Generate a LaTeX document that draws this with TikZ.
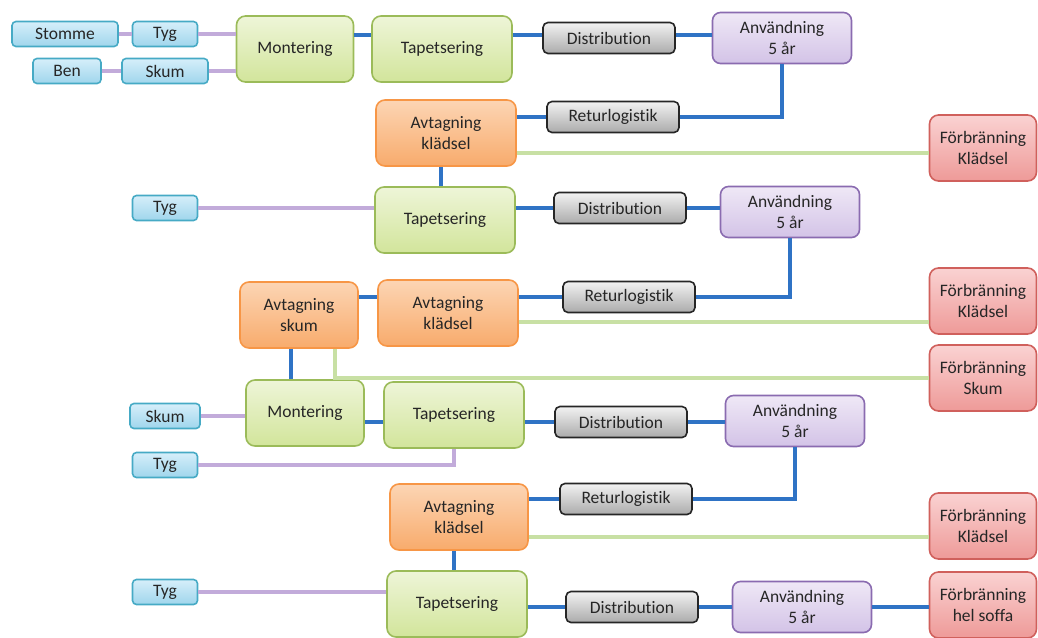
\documentclass[tikz,border=0pt]{standalone}
\usepackage{fontspec}
\setmainfont{Carlito}[Ligatures=NoCommon]
\usetikzlibrary{positioning}
\definecolor{RawLine}{HTML}{46AAC5}
\definecolor{RawTop}{HTML}{D6EFFA}
\definecolor{RawBot}{HTML}{9FD5EC}
\definecolor{WorkLine}{HTML}{9BBB59}
\definecolor{WorkTop}{HTML}{EEF5D8}
\definecolor{WorkBot}{HTML}{D2E59B}
\definecolor{LogiTop}{HTML}{F2F2F2}
\definecolor{LogiBot}{HTML}{ABABAB}
\definecolor{UseLine}{HTML}{8A6BB0}
\definecolor{UseTop}{HTML}{EFE8F6}
\definecolor{UseBot}{HTML}{D3C3E7}
\definecolor{StripLine}{HTML}{F79646}
\definecolor{StripTop}{HTML}{FCD5B4}
\definecolor{StripBot}{HTML}{F8AB6C}
\definecolor{BurnLine}{HTML}{D0605C}
\definecolor{BurnTop}{HTML}{FAD2D2}
\definecolor{BurnBot}{HTML}{EE9A98}
\definecolor{Flow}{HTML}{2F73C5}
\definecolor{Matl}{HTML}{C2ABDA}
\definecolor{Waste}{HTML}{C8E0A4}
\definecolor{Ink}{HTML}{262626}

\begin{document}
\begin{tikzpicture}[x=1pt,y=-1pt,
every node/.style={font=\fontsize{17.5}{21}\selectfont,text=Ink,align=center,inner sep=0pt},
raw/.style={draw=RawLine,line width=1.6pt,rounded corners=4pt,top color=RawTop,bottom color=RawBot,minimum height=25pt},
work/.style={draw=WorkLine,line width=1.6pt,rounded corners=9pt,top color=WorkTop,bottom color=WorkBot,minimum height=66pt},
logi/.style={draw=black!85,line width=1.6pt,rounded corners=5pt,top color=LogiTop,bottom color=LogiBot,minimum width=132pt,minimum height=31pt},
usebox/.style={draw=UseLine,line width=1.6pt,rounded corners=8pt,top color=UseTop,bottom color=UseBot,minimum width=139pt,minimum height=51pt},
strip/.style={draw=StripLine,line width=1.6pt,rounded corners=9pt,top color=StripTop,bottom color=StripBot,minimum height=66pt},
burn/.style={draw=BurnLine,line width=1.6pt,rounded corners=9pt,top color=BurnTop,bottom color=BurnBot,minimum width=107pt,minimum height=66pt},
flow/.style={draw=Flow,line width=3.8pt},
matl/.style={draw=Matl,line width=3.2pt},
waste/.style={draw=Waste,line width=3.2pt}]
\useasboundingbox (0,0) rectangle (1038,637);

% first life
\node[raw,minimum width=106pt] (stomme) at (65,34) {Stomme};
\node[raw,minimum width=65pt] (tygA) at (165,34) {Tyg};
\node[raw,minimum width=68pt] (ben) at (67,71) {Ben};
\node[raw,minimum width=86pt] (skumA) at (165,71) {Skum};
\node[work,minimum width=117pt] (monA) at (295,49) {Montering};
\node[work,minimum width=140pt] (tapA) at (442,49) {Tapetsering};
\node[logi] (distA) at (609,38) {Distribution};
\node[usebox] (anvA) at (782,38) {Användning\\5 år};
\node[logi] (retA) at (613,117) {Returlogistik};
\node[strip,minimum width=140pt] (avkA) at (446,133) {Avtagning\\klädsel};
\node[burn] (fbkA) at (983,148) {Förbränning\\Klädsel};

% second life
\node[raw,minimum width=65pt] (tygB) at (165,208) {Tyg};
\node[work,minimum width=140pt] (tapB) at (445,220) {Tapetsering};
\node[logi] (distB) at (620,208) {Distribution};
\node[usebox] (anvB) at (790,212) {Användning\\5 år};
\node[logi] (retB) at (629,297) {Returlogistik};
\node[strip,minimum width=140pt] (avkB) at (448,313) {Avtagning\\klädsel};
\node[strip,minimum width=118pt] (avs) at (299,315) {Avtagning\\skum};
\node[burn] (fbkB) at (983,301) {Förbränning\\Klädsel};
\node[burn] (fbs) at (983,378) {Förbränning\\Skum};

% third life
\node[raw,minimum width=70pt] (skumC) at (165,416) {Skum};
\node[work,minimum width=118pt] (monC) at (305,413) {Montering};
\node[work,minimum width=140pt] (tapC) at (454,415) {Tapetsering};
\node[raw,minimum width=65pt] (tygC) at (165,465) {Tyg};
\node[logi] (distC) at (621,422) {Distribution};
\node[usebox] (anvC) at (795,421) {Användning\\5 år};
\node[logi] (retC) at (626,499) {Returlogistik};
\node[strip,minimum width=138pt] (avkC) at (459,517) {Avtagning\\klädsel};
\node[burn] (fbkC) at (983,526) {Förbränning\\Klädsel};

% fourth life
\node[raw,minimum width=65pt] (tygD) at (165,592) {Tyg};
\node[work,minimum width=140pt] (tapD) at (457,604) {Tapetsering};
\node[logi] (distD) at (632,607) {Distribution};
\node[usebox] (anvD) at (802,607) {Användning\\5 år};
\node[burn] (fbh) at (983,605) {Förbränning\\hel soffa};

% connectors
\draw[matl] (stomme) -- (tygA);
\draw[matl] (ben) -- (skumA);
\draw[matl] (tygA.east) -- (tygA.east -| monA.west);
\draw[matl] (skumA.east) -- (skumA.east -| monA.west);
\draw[flow] (monA.east |- 0,35) -- (tapA.west |- 0,35);
\draw[flow] (tapA.east |- 0,35) -- (distA.west |- 0,35);
\draw[flow] (distA.east |- 0,35) -- (anvA.west |- 0,35);
\draw[flow] (anvA.south) |- (retA.east);
\draw[flow] (retA.west) -- (retA.west -| avkA.east);
\draw[waste] ([yshift=-20pt]avkA.east) -- ([yshift=-20pt]avkA.east -| fbkA.west);
\draw[flow] ([xshift=-5pt]avkA.south) -- ([xshift=-5pt]avkA.south |- tapB.north);

\draw[matl] (tygB.east) -- (tygB.east -| tapB.west);
\draw[flow] (tapB.east |- distB) -- (distB.west);
\draw[flow] (distB.east) -- (distB.east -| anvB.west);
\draw[flow] (anvB.south) |- (retB.east);
\draw[flow] (retB.west) -- (retB.west -| avkB.east);
\draw[flow] (avs.east |- retB.west) -- (avkB.west |- retB.west);
\draw[waste] ([yshift=-9pt]avkB.east) -- ([yshift=-9pt]avkB.east -| fbkB.west);
\draw[waste] ([xshift=36pt]avs.south) |- (fbs.west);
\draw[flow] ([xshift=-8pt]avs.south) -- ([xshift=-8pt]avs.south |- monC.north);

\draw[matl] (skumC.east) -- (skumC.east -| monC.west);
\draw[flow] (monC.east |- distC) -- (tapC.west |- distC);
\draw[flow] (tapC.east |- distC) -- (distC.west);
\draw[flow] (distC.east) -- (distC.east -| anvC.west);
\draw[matl] (tygC.east) -| (tapC.south);
\draw[flow] (anvC.south) |- (retC.east);
\draw[flow] (retC.west) -- (retC.west -| avkC.east);
\draw[waste] ([yshift=-20pt]avkC.east) -- ([yshift=-20pt]avkC.east -| fbkC.west);
\draw[flow] ([xshift=-5pt]avkC.south) -- ([xshift=-5pt]avkC.south |- tapD.north);

\draw[matl] (tygD.east) -- (tygD.east -| tapD.west);
\draw[flow] (tapD.east |- distD) -- (distD.west);
\draw[flow] (distD.east) -- (distD.east -| anvD.west);
\draw[flow] (anvD.east) -- (anvD.east -| fbh.west);
\end{tikzpicture}
\end{document}
